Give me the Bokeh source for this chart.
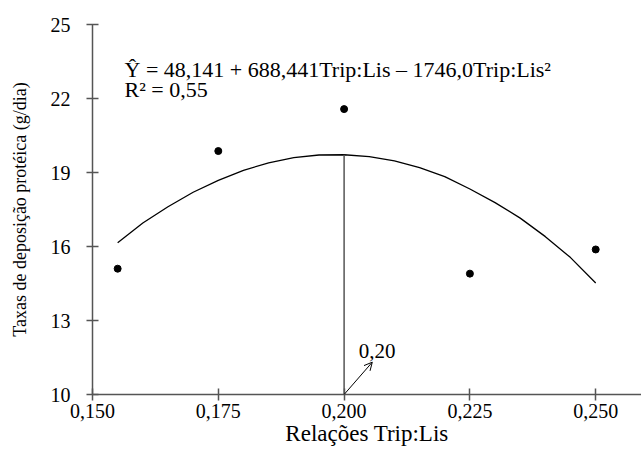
from bokeh.plotting import figure
from bokeh.models import FixedTicker, Label, Arrow, OpenHead, ColumnDataSource
from bokeh.embed import file_html
from bokeh.resources import INLINE

# Observed data points
obs_x = [0.155, 0.175, 0.200, 0.225, 0.250]
obs_y = [15.1, 19.87, 21.57, 14.9, 15.88]

# Fitted curve
fit_x = [0.155, 0.160, 0.165, 0.170, 0.175, 0.180, 0.185, 0.190, 0.195, 0.200,
         0.205, 0.210, 0.215, 0.220, 0.225, 0.230, 0.235, 0.240, 0.245, 0.250]
fit_y = [16.15, 16.95, 17.61, 18.20, 18.68, 19.09, 19.39, 19.60, 19.71, 19.72,
         19.64, 19.47, 19.20, 18.83, 18.33, 17.78, 17.15, 16.40, 15.55, 14.52]

# Optimum marker
opt_x = [0.200, 0.200]
opt_y = [10.0, 19.72]

x_ticks = [0.150, 0.175, 0.200, 0.225, 0.250]
x_tick_labels = ["0,150", "0,175", "0,200", "0,225", "0,250"]
y_ticks = [10, 13, 16, 19, 22, 25]

FONT = "Liberation Serif"
AXC = "#555555"

p = figure(width=641, height=457, output_backend="svg", toolbar_location=None,
           x_range=(0.150, 0.2591), y_range=(10, 25),
           min_border_left=92, min_border_top=24, min_border_right=0, min_border_bottom=63)
p.outline_line_color = None
p.grid.visible = False
p.background_fill_color = "white"
p.border_fill_color = "white"

p.xaxis.ticker = FixedTicker(ticks=x_ticks)
p.xaxis.major_label_overrides = {t: l for t, l in zip(x_ticks, x_tick_labels)}
p.yaxis.ticker = FixedTicker(ticks=y_ticks)

for ax in (p.xaxis, p.yaxis):
    ax.axis_line_color = AXC
    ax.axis_line_width = 1.5
    ax.major_tick_line_color = AXC
    ax.major_tick_line_width = 1.5
    ax.major_tick_in = 6
    ax.major_tick_out = 6
    ax.minor_tick_line_color = None
    ax.major_label_text_font = FONT
    ax.major_label_text_font_size = "20px"
    ax.major_label_text_color = "black"
    ax.axis_label_text_font = FONT
    ax.axis_label_text_font_style = "normal"
    ax.axis_label_text_color = "black"

p.xaxis.major_label_standoff = 3
p.yaxis.major_label_standoff = 16
p.yaxis.axis_label = "Taxas de deposição protéica (g/dia)"
p.yaxis.axis_label_text_font_size = "18px"
p.yaxis.axis_label_standoff = 18
p.xaxis.axis_label = "Relações Trip:Lis"
p.xaxis.axis_label_text_font_size = "23px"
p.xaxis.axis_label_standoff = 0

src_fit = ColumnDataSource(dict(x=fit_x, y=fit_y))
p.line("x", "y", source=src_fit, line_color="black", line_width=1.3)
p.line(opt_x, opt_y, line_color=AXC, line_width=1.5)
src_obs = ColumnDataSource(dict(x=obs_x, y=obs_y))
p.scatter("x", "y", source=src_obs, size=7, color="black")

p.add_layout(Arrow(end=OpenHead(size=8, line_color="black", line_width=1),
                   x_start=0.200, y_start=10.0, x_end=0.2056, y_end=11.31,
                   line_color="black", line_width=1))
p.add_layout(Label(x=0.2029, y=11.5, text="0,20", text_font=FONT,
                   text_font_size="21px", text_color="black"))

p.add_layout(Label(x=0.15636, y=22.65, text="Ŷ = 48,141 + 688,441Trip:Lis – 1746,0Trip:Lis²",
                   text_font=FONT, text_font_size="22px", text_color="black"))
p.add_layout(Label(x=0.15636, y=21.84, text="R² = 0,55",
                   text_font=FONT, text_font_size="22px", text_color="black"))

open("out.html", "w").write(file_html(p, INLINE))
